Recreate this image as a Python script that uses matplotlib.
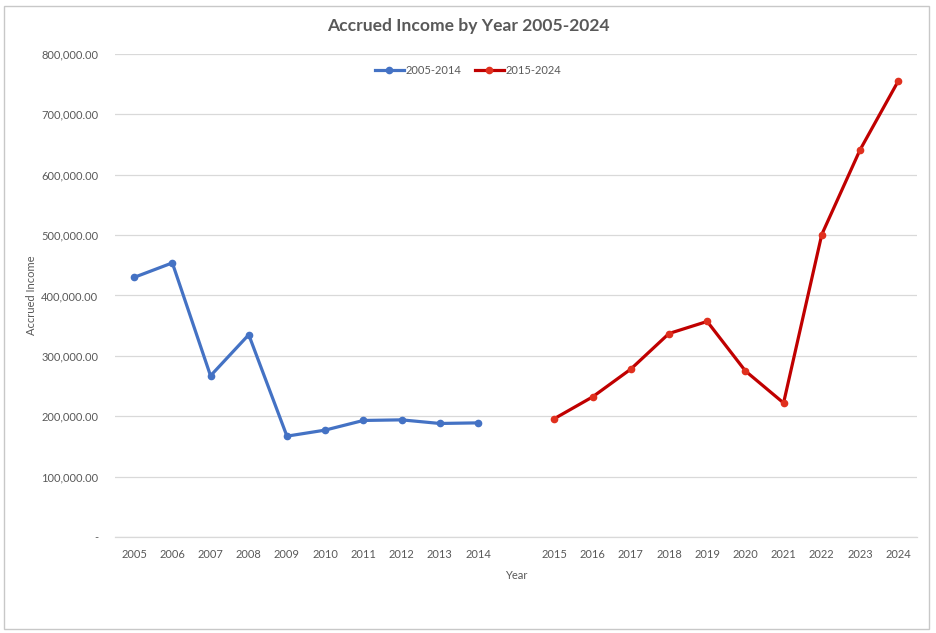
import numpy as np
import matplotlib
matplotlib.use('Agg')
import matplotlib.pyplot as plt
from matplotlib.ticker import FuncFormatter
from matplotlib.patches import Rectangle

plt.rcParams['font.family'] = ['Lato', 'DejaVu Sans']

# categories (blank slot between the two decades, as in the sheet)
years = ['2005', '2006', '2007', '2008', '2009', '2010', '2011', '2012', '2013', '2014',
         '',
         '2015', '2016', '2017', '2018', '2019', '2020', '2021', '2022', '2023', '2024']

years_a = ['2005', '2006', '2007', '2008', '2009', '2010', '2011', '2012', '2013', '2014']
income_a = [430000, 454000, 267000, 335000, 167000, 177000, 193000, 194000, 188000, 189000]

years_b = ['2015', '2016', '2017', '2018', '2019', '2020', '2021', '2022', '2023', '2024']
income_b = [196000, 232000, 278000, 337000, 357000, 275000, 222000, 501000, 641000, 755000]

y_ticks = [0, 100000, 200000, 300000, 400000, 500000, 600000, 700000, 800000]

txt = '#595959'
blue = '#4472C4'
red = '#C00000'

fig = plt.figure(figsize=(9.36, 6.33), dpi=100)
ax = fig.add_axes([0.1229, 0.1517, 0.8571, 0.763])

xa = [years.index(y) for y in years_a]
xb = [years.index(y) for y in years_b]

ax.plot(xa, income_a, color=blue, lw=2.3, marker='o', ms=4.5,
        mfc=blue, mec=blue, label='2005-2014', solid_joinstyle='round')
ax.plot(xb, income_b, color=red, lw=2.3, marker='o', ms=4.5,
        mfc='#E0301E', mec='#E0301E', label='2015-2024', solid_joinstyle='round')

ax.set_xlim(-0.5, len(years) - 0.5)
ax.set_ylim(0, 800000)
ax.set_xticks(range(len(years)))
ax.set_xticklabels(years)
ax.set_yticks(y_ticks)
ax.yaxis.set_major_formatter(FuncFormatter(lambda v, p: '-' if v == 0 else '{:,.2f}'.format(v)))

ax.grid(axis='y', color='#D9D9D9', lw=0.9)
ax.set_axisbelow(True)
for s in ['top', 'right', 'left']:
    ax.spines[s].set_visible(False)
ax.spines['bottom'].set_color('#D9D9D9')
ax.spines['bottom'].set_linewidth(0.9)
ax.tick_params(axis='both', length=0, colors=txt, labelsize=8)
ax.tick_params(axis='y', pad=12)
ax.tick_params(axis='x', pad=9)

ax.set_ylabel('Accrued Income', color=txt, fontsize=8, labelpad=3)
ax.set_xlabel('Year', color=txt, fontsize=8, labelpad=7)
fig.suptitle('Accrued Income by Year 2005-2024', x=0.5, y=0.972, fontsize=12.6,
             fontweight='bold', color=txt)

leg = fig.legend(loc='center', bbox_to_anchor=(0.5, 0.889), ncol=2, frameon=False,
                 fontsize=8, handlelength=2.6, handletextpad=0.15, columnspacing=1.2)
for t in leg.get_texts():
    t.set_color(txt)

fig.patches.append(Rectangle((0.004, 0.006), 0.988, 0.985, transform=fig.transFigure,
                             fill=False, edgecolor='#C8C8C8', lw=1.0))

fig.savefig('out.png', dpi=100)
